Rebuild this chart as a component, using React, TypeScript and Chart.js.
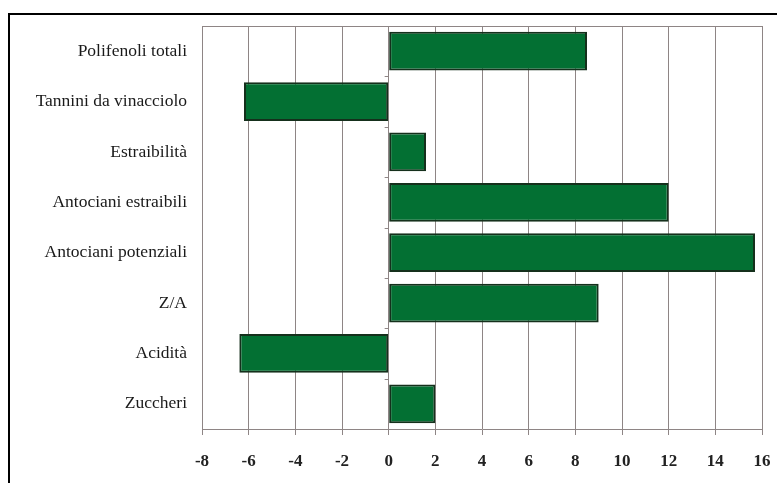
import React, { useEffect, useRef } from "react";
import { Chart, registerables } from "chart.js";

Chart.register(...registerables);

const categories = [
  "Polifenoli totali",
  "Tannini da vinacciolo",
  "Estraibilità",
  "Antociani estraibili",
  "Antociani potenziali",
  "Z/A",
  "Acidità",
  "Zuccheri",
];
const values = [8.5, -6.2, 1.6, 12, 15.7, 9, -6.4, 2];
const xMin = -8;
const xMax = 16;
const xStep = 2;

const frameAndTicks = {
  id: "frameAndTicks",
  afterDraw(chart: any) {
    const { ctx, chartArea } = chart;
    const x = chart.scales.x;
    const y = chart.scales.y;
    ctx.save();
    ctx.strokeStyle = "#8e8585";
    ctx.lineWidth = 1;
    ctx.beginPath();
    ctx.moveTo(chartArea.left, chartArea.top + 0.5);
    ctx.lineTo(chartArea.right, chartArea.top + 0.5);
    ctx.stroke();
    const x0 = x.getPixelForValue(0);
    const n = categories.length;
    for (let i = 1; i < n; i++) {
      const yy = (y.getPixelForValue(i - 1) + y.getPixelForValue(i)) / 2;
      ctx.beginPath();
      ctx.moveTo(x0 - 4, Math.round(yy) + 0.5);
      ctx.lineTo(x0, Math.round(yy) + 0.5);
      ctx.stroke();
    }
    ctx.restore();
  },
};

export default function App() {
  const ref = useRef<HTMLCanvasElement | null>(null);
  useEffect(() => {
    if (!ref.current) return;
    const chart = new Chart(ref.current, {
      type: "bar",
      data: {
        labels: categories,
        datasets: [
          {
            data: values,
            backgroundColor: "#037033",
            borderColor: "#15301c",
            borderWidth: 2,
            borderSkipped: false,
            barPercentage: 0.77,
            categoryPercentage: 1,
          },
        ],
      },
      options: {
        indexAxis: "y",
        animation: false,
        responsive: false,
        maintainAspectRatio: false,
        layout: { padding: { top: 26, right: 15, left: 0, bottom: 0 } },
        plugins: { legend: { display: false }, tooltip: { enabled: false } },
        scales: {
          x: {
            type: "linear",
            min: xMin,
            max: xMax,
            ticks: {
              stepSize: xStep,
              padding: 16,
              color: "#222",
              font: { family: "Liberation Serif", size: 17, weight: "bold" },
            },
            grid: {
              color: "#8e8585",
              lineWidth: 1,
              drawTicks: true,
              tickLength: 6,
              tickColor: "#8e8585",
            },
            border: { color: "#8e8585", width: 1 },
            afterFit(scale: any) {
              scale.height = 54;
              scale.paddingLeft = 0;
              scale.paddingRight = 0;
            },
          },
          y: {
            type: "category",
            ticks: {
              padding: 15,
              color: "#1a1a1a",
              font: { family: "Liberation Serif", size: 17.5 },
            },
            grid: { display: false, drawTicks: false },
            border: { display: false },
            afterFit(scale: any) {
              scale.width = 202;
              scale.paddingTop = 0;
              scale.paddingBottom = 0;
            },
          },
        },
      },
      plugins: [frameAndTicks],
    });
    return () => chart.destroy();
  }, []);

  return (
    <div style={{ position: "fixed", left: 0, top: 0, width: 777, height: 483, background: "#fff" }}>
      <div
        style={{
          position: "absolute",
          left: 8,
          top: 13,
          width: 769,
          height: 470,
          borderLeft: "2px solid #000",
          borderTop: "2px solid #000",
          boxSizing: "border-box",
        }}
      />
      <canvas ref={ref} width={777} height={483} style={{ position: "absolute", left: 0, top: 0 }} />
    </div>
  );
}
